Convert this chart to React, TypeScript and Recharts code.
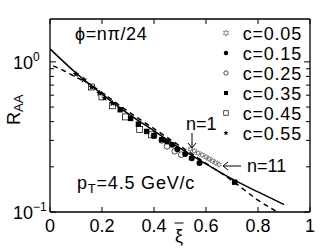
import React from "react";
import { ComposedChart, Line, Scatter, XAxis, YAxis } from "recharts";

// ---- data ----
const xiSolid = [0, 0.1, 0.2, 0.3, 0.4, 0.5, 0.6, 0.7, 0.8, 0.9];
const rSolid = [1.22, 0.843, 0.61, 0.452, 0.347, 0.266, 0.209, 0.166, 0.136, 0.112];
const xiDashed = [0.012, 0.05, 0.1, 0.15, 0.2, 0.3, 0.4, 0.5, 0.6, 0.7, 0.8, 0.87];
const rDashed = [0.94, 0.88, 0.79, 0.716, 0.624, 0.468, 0.359, 0.275, 0.211, 0.162, 0.12, 0.101];

const xiC05 = [0.54, 0.555, 0.57, 0.585, 0.6, 0.612, 0.625, 0.637, 0.65];
const rC05 = [0.262, 0.255, 0.247, 0.24, 0.232, 0.226, 0.219, 0.213, 0.207];
const xiC15 = [0.45, 0.47, 0.49, 0.52, 0.545, 0.575];
const rC15 = [0.295, 0.28, 0.262, 0.243, 0.228, 0.212];
const xiC25 = [0.4, 0.43, 0.45, 0.48, 0.505];
const rC25 = [0.322, 0.3, 0.274, 0.254, 0.241];
const xiC35 = [0.27, 0.31, 0.34, 0.372, 0.4, 0.43, 0.71];
const rC35 = [0.48, 0.42, 0.385, 0.344, 0.322, 0.303, 0.158];
const xiC45 = [0.16, 0.2, 0.24, 0.29, 0.345, 0.39];
const rC45 = [0.68, 0.585, 0.51, 0.43, 0.355, 0.327];
const xiC55 = [0.1, 0.13, 0.16, 0.19, 0.21, 0.24];
const rC55 = [0.83, 0.76, 0.68, 0.62, 0.575, 0.53];

const legendLabels = ["c=0.05", "c=0.15", "c=0.25", "c=0.35", "c=0.45", "c=0.55"];
const xTicks = [0, 0.2, 0.4, 0.6, 0.8, 1];
const xTickLabels = ["0", "0.2", "0.4", "0.6", "0.8", "1"];
const yTicks = [0.1, 0.2, 0.3, 0.4, 0.5, 0.6, 0.7, 0.8, 0.9, 1];
const yDomain = [0.1, 1.93];

const zip = (xs: number[], ys: number[]) => xs.map((x, i) => ({ x, y: ys[i] }));

type Kind = "hex" | "fcirc" | "ocirc" | "fsq" | "osq" | "fstar";
const kinds: Kind[] = ["hex", "fcirc", "ocirc", "fsq", "osq", "fstar"];

function starPath(cx: number, cy: number, ro: number, ri: number, n: number) {
  const pts: string[] = [];
  for (let i = 0; i < 2 * n; i++) {
    const r = i % 2 === 0 ? ro : ri;
    const a = -Math.PI / 2 + (i * Math.PI) / n;
    pts.push(`${(cx + r * Math.cos(a)).toFixed(2)},${(cy + r * Math.sin(a)).toFixed(2)}`);
  }
  return "M" + pts.join("L") + "Z";
}

function Marker({ kind, cx, cy, s }: { kind: Kind; cx: number; cy: number; s: number }) {
  if (cx == null || cy == null) return null;
  switch (kind) {
    case "hex":
      return <path d={starPath(cx, cy, s * 0.62, s * 0.3, 6)} fill="none" stroke="#444" strokeWidth={0.6} />;
    case "fcirc":
      return <circle cx={cx} cy={cy} r={s * 0.5} fill="#000" />;
    case "ocirc":
      return <circle cx={cx} cy={cy} r={s * 0.48} fill="none" stroke="#000" strokeWidth={0.7} />;
    case "fsq":
      return <rect x={cx - s * 0.45} y={cy - s * 0.45} width={s * 0.9} height={s * 0.9} fill="#000" />;
    case "osq":
      return <rect x={cx - s * 0.5} y={cy - s * 0.5} width={s} height={s} fill="none" stroke="#000" strokeWidth={0.7} />;
    case "fstar":
      return <path d={starPath(cx, cy, s * 0.6, s * 0.25, 5)} fill="#000" />;
  }
  return null;
}

const seriesData = [
  zip(xiC05, rC05),
  zip(xiC15, rC15),
  zip(xiC25, rC25),
  zip(xiC35, rC35),
  zip(xiC45, rC45),
  zip(xiC55, rC55),
];

const FONT = "'Liberation Sans', Arial, sans-serif";

const LeftTick = (p: any) => {
  const { x, y, payload } = p;
  const v = payload.value;
  const major = Math.abs(v - 0.1) < 1e-9 || Math.abs(v - 1) < 1e-9;
  return (
    <g>
      <line x1={x} y1={y} x2={x + (major ? 6 : 4)} y2={y} stroke="#000" strokeWidth={1} />
      {major && (
        <text x={13} y={y + 7} fontSize={18} fontFamily={FONT} fill="#000">
          10
          <tspan dy={-8} fontSize={12}>{Math.abs(v - 1) < 1e-9 ? "0" : "\u22121"}</tspan>
        </text>
      )}
    </g>
  );
};

const RightTick = (p: any) => {
  const { x, y, payload } = p;
  const v = payload.value;
  const major = Math.abs(v - 0.1) < 1e-9 || Math.abs(v - 1) < 1e-9;
  return <line x1={x} y1={y} x2={x - (major ? 6 : 4)} y2={y} stroke="#000" strokeWidth={1} />;
};

const BottomTick = (p: any) => {
  const { x, y, index } = p;
  return (
    <g>
      <line x1={x} y1={y} x2={x} y2={y - 5} stroke="#000" strokeWidth={1} />
      <text x={x} y={y + 20} textAnchor="middle" fontSize={18} fontFamily={FONT} fill="#000">
        {xTickLabels[index]}
      </text>
    </g>
  );
};

const TopTick = (p: any) => {
  const { x, y } = p;
  return <line x1={x} y1={y} x2={x} y2={y + 5} stroke="#000" strokeWidth={1} />;
};

export default function App() {
  const axisLine = { stroke: "#000", strokeWidth: 1.3 };
  return (
    <div style={{ position: "absolute", left: 0, top: 0, width: 332, height: 250, background: "#fff" }}>
      <ComposedChart width={332} height={250} margin={{ top: 18, right: 21, bottom: 8, left: 0 }}>
        <XAxis
          xAxisId="b"
          type="number"
          dataKey="x"
          domain={[0, 1]}
          allowDataOverflow
          ticks={xTicks}
          interval={0}
          tick={<BottomTick />}
          tickLine={false}
          tickSize={0}
          tickMargin={0}
          height={30}
          axisLine={axisLine}
        />
        <XAxis
          xAxisId="t"
          orientation="top"
          type="number"
          dataKey="x"
          domain={[0, 1]}
          allowDataOverflow
          ticks={xTicks}
          interval={0}
          tick={<TopTick />}
          tickLine={false}
          tickSize={0}
          tickMargin={0}
          height={1}
          axisLine={axisLine}
        />
        <YAxis
          yAxisId="l"
          type="number"
          scale="log"
          domain={yDomain}
          allowDataOverflow
          ticks={yTicks}
          interval={0}
          tick={<LeftTick />}
          tickLine={false}
          tickSize={0}
          tickMargin={0}
          width={50}
          axisLine={axisLine}
        />
        <YAxis
          yAxisId="r"
          orientation="right"
          type="number"
          scale="log"
          domain={yDomain}
          allowDataOverflow
          ticks={yTicks}
          interval={0}
          tick={<RightTick />}
          tickLine={false}
          tickSize={0}
          tickMargin={0}
          width={1}
          axisLine={axisLine}
        />
        <Line
          xAxisId="b"
          yAxisId="l"
          data={zip(xiSolid, rSolid)}
          dataKey="y"
          type="monotone"
          stroke="#000"
          strokeWidth={1.5}
          dot={false}
          isAnimationActive={false}
        />
        <Line
          xAxisId="t"
          yAxisId="r"
          data={zip(xiDashed, rDashed)}
          dataKey="y"
          type="monotone"
          stroke="#000"
          strokeWidth={1.5}
          strokeDasharray="5 4"
          dot={false}
          isAnimationActive={false}
        />
        {seriesData.map((d, i) => (
          <Scatter
            key={i}
            xAxisId="b"
            yAxisId="l"
            data={d}
            dataKey="y"
            isAnimationActive={false}
            shape={(p: any) => <Marker kind={kinds[i]} cx={p.cx} cy={p.cy} s={i === 0 ? 4.5 : 6} />}
          />
        ))}
      </ComposedChart>
      <svg
        width={332}
        height={250}
        style={{ position: "absolute", left: 0, top: 0, pointerEvents: "none" }}
        fontFamily={FONT}
      >
        <text x={75} y={40} fontSize={18} fill="#000" letterSpacing={0.6}>ϕ=nπ/24</text>
        {legendLabels.map((lab, i) => (
          <g key={lab}>
            <Marker kind={kinds[i]} cx={226} cy={33 + 20 * i} s={i === 0 ? 5 : 4.5} />
            <text x={302} y={33 + 20 * i + 6.5} textAnchor="end" fontSize={18} fill="#000" letterSpacing={0.8}>
              {lab}
            </text>
          </g>
        ))}
        <text x={186} y={130} fontSize={18} fill="#000">n=1</text>
        <line x1={192} y1={133} x2={192} y2={148} stroke="#000" strokeWidth={1} />
        <path d="M188,143 L192,148 L196,143" fill="none" stroke="#000" strokeWidth={1} />
        <line x1={223} y1={166} x2={241} y2={166} stroke="#000" strokeWidth={1} />
        <path d="M228,162 L223,166 L228,170" fill="none" stroke="#000" strokeWidth={1} />
        <text x={247} y={172} fontSize={18} fill="#000">n=11</text>
        <text x={77} y={189} fontSize={18} fill="#000" letterSpacing={0.8}>
          p<tspan dy={4} fontSize={13}>T</tspan>
          <tspan dy={-4}>=4.5 GeV/c</tspan>
        </text>
        <text transform="translate(19.5,125) rotate(-90)" fontSize={18} fill="#000">
          R<tspan dy={3.5} fontSize={13}>AA</tspan>
        </text>
        <text x={175} y={242} fontSize={18} fill="#000">ξ</text>
        <line x1={174.5} y1={223} x2={183.5} y2={223} stroke="#000" strokeWidth={1} />
      </svg>
    </div>
  );
}
